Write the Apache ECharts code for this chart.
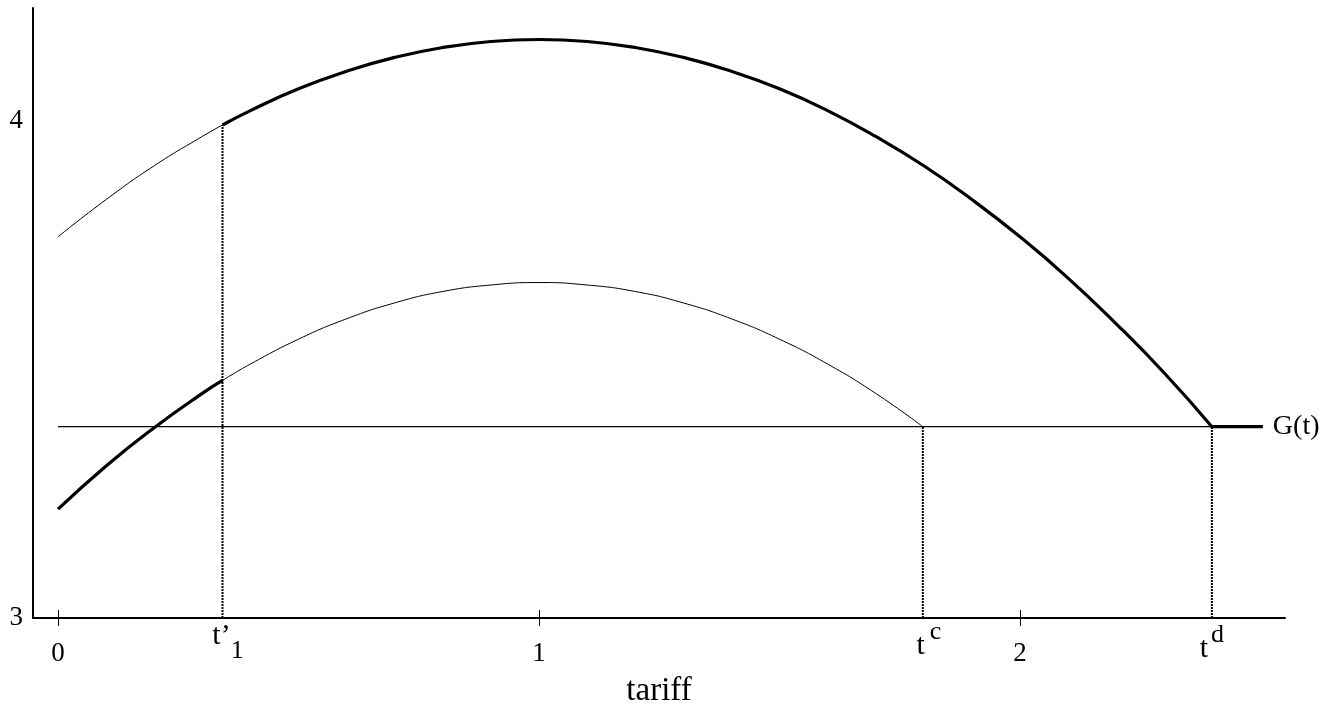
<!DOCTYPE html>
<html>
<head>
<meta charset="utf-8">
<script src="https://cdn.jsdelivr.net/npm/echarts@6/dist/echarts.min.js"></script>
<style>
html,body{margin:0;padding:0;background:#fff;}
#chart{width:1334px;height:709px;}
</style>
</head>
<body>
<div id="chart"></div>
<script>
// ---- data ----
const topThinX  = [0, 0.1, 0.2, 0.3, 0.342];
const topThinY  = [3.767, 3.842, 3.910, 3.969, 3.992];
const topThickX = [0.342, 0.4, 0.5, 0.6, 0.7, 0.8, 0.9, 1.0, 1.1, 1.2, 1.3, 1.4, 1.5, 1.6, 1.7, 1.8, 1.9, 2.0, 2.1, 2.2, 2.3, 2.399];
const topThickY = [3.992, 4.021, 4.065, 4.100, 4.128, 4.148, 4.160, 4.164, 4.160, 4.148, 4.128, 4.100, 4.065, 4.021, 3.969, 3.910, 3.842, 3.767, 3.684, 3.592, 3.493, 3.385];
const lowThickX = [0, 0.1, 0.2, 0.3, 0.342];
const lowThickY = [3.219, 3.306, 3.383, 3.452, 3.478];
const lowThinX  = [0.342, 0.4, 0.5, 0.6, 0.7, 0.8, 0.9, 1.0, 1.1, 1.2, 1.3, 1.4, 1.5, 1.6, 1.7, 1.798];
const lowThinY  = [3.478, 3.511, 3.561, 3.602, 3.634, 3.657, 3.670, 3.675, 3.670, 3.657, 3.634, 3.602, 3.561, 3.511, 3.452, 3.385];
const gLevel = 3.385;
const gThinX  = [0, 2.399];
const gThickX = [2.399, 2.505];
const gName = 'G(t)';
// marked tariffs t'_1, t^c, t^d and the curve value they reach
const markX    = [0.342, 1.798, 2.399];
const markTopY = [3.992, 3.385, 3.385];
const markMain   = ['t\u2019', 't', 't'];
const markScript = ['1', 'c', 'd'];
// numeric ticks
const tickValues = [0, 1, 2];
const tickLabels = ['0', '1', '2'];
const yTickValues = [3, 4];
const yTickLabels = ['3', '4'];
const xName = 'tariff';

const FONT = "'Liberation Serif','Times New Roman',serif";
const zip = (xs, ys) => xs.map((x, i) => [x, ys[i]]);

const labelValues = tickValues.concat(markX);
function xLabel(v) {
  for (let i = 0; i < tickValues.length; i++) if (Math.abs(v - tickValues[i]) < 1e-6) return '{n|' + tickLabels[i] + '}';
  for (let i = 0; i < markX.length; i++) if (Math.abs(v - markX[i]) < 1e-6) return '{m' + i + '|' + markMain[i] + '}{s' + i + '|' + markScript[i] + '}';
  return '';
}

const thin = {color: '#000', width: 1};
const gThin = {color: '#000', width: 1.2};
const thick = {color: '#000', width: 3.2};
const dotted = {color: '#000', width: 2, type: [2, 1]};

const series = [
  {type: 'line', data: zip(topThinX, topThinY), smooth: true, showSymbol: false, lineStyle: thin},
  {type: 'line', data: zip(topThickX, topThickY), smooth: true, showSymbol: false, lineStyle: thick},
  {type: 'line', data: zip(lowThickX, lowThickY), smooth: true, showSymbol: false, lineStyle: thick},
  {type: 'line', data: zip(lowThinX, lowThinY), smooth: true, showSymbol: false, lineStyle: thin},
  {type: 'line', data: gThinX.map(x => [x, gLevel]), showSymbol: false, lineStyle: gThin},
  {type: 'line', data: gThickX.map(x => [x, gLevel]), showSymbol: false, lineStyle: thick,
   endLabel: {show: true, formatter: gName, distance: 10, fontFamily: FONT, fontSize: 28, color: '#000'}}
];
markX.forEach((x, i) => {
  series.push({type: 'line', data: [[x, 3], [x, markTopY[i]]], showSymbol: false, lineStyle: dotted, z: 1});
});

const R = (fs, pad) => ({fontSize: fs, lineHeight: fs, fontFamily: FONT, color: '#000', verticalAlign: 'top', padding: pad});

const chart = echarts.init(document.getElementById('chart'), null, {renderer: 'canvas'});
chart.setOption({
  animation: false,
  backgroundColor: '#fff',
  grid: {left: 33, right: 49, top: 8, bottom: 91, outerBoundsMode: 'none', containLabel: false},
  xAxis: [{
    type: 'value', min: -0.052, max: 2.551, position: 'bottom',
    axisLine: {show: true, onZero: false, lineStyle: {color: '#000', width: 2}},
    splitLine: {show: false},
    axisTick: {show: true, customValues: tickValues, length: 8, lineStyle: {color: '#000', width: 1}},
    axisLabel: {
      show: true, customValues: labelValues, margin: 1, formatter: xLabel, color: '#000', fontFamily: FONT,
      rich: {
        n:  R(27, [21, 0, 0, 0]),
        m0: R(30, [2, 0, 0, 11]),
        s0: R(26, [19, 0, 0, 0]),
        m1: R(30, [12, 0, 0, 12]),
        s1: R(26, [0, 0, 0, 5]),
        m2: R(30, [15, 0, 0, 0]),
        s2: R(26, [3, 0, 0, 3])
      }
    },
    name: xName, nameLocation: 'middle', nameGap: 57,
    nameTextStyle: {fontFamily: FONT, fontSize: 33, color: '#000'}
  }, {
    type: 'value', min: -0.052, max: 2.551, position: 'bottom',
    axisLine: {show: false, onZero: false},
    splitLine: {show: false},
    axisTick: {show: true, inside: true, customValues: tickValues, length: 8, lineStyle: {color: '#000', width: 1}},
    axisLabel: {show: false}
  }],
  yAxis: {
    type: 'value', min: 3, max: 4.2274,
    axisLine: {show: true, onZero: false, lineStyle: {color: '#000', width: 2}},
    splitLine: {show: false},
    axisTick: {show: false},
    axisLabel: {show: true, customValues: yTickValues, margin: 10, color: '#000', fontFamily: FONT, fontSize: 27,
      formatter: v => yTickLabels[yTickValues.indexOf(v)]}
  },
  series: series
});
</script>
</body>
</html>
